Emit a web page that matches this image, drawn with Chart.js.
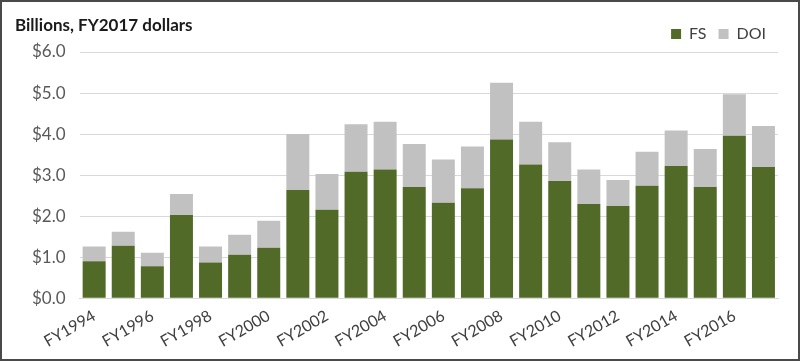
<!DOCTYPE html>
<html>
<head>
<meta charset="utf-8">
<script src="https://cdn.jsdelivr.net/npm/chart.js@4/dist/chart.umd.min.js"></script>
<style>
    html, body { margin: 0; padding: 0; background: #fff; }
    #frame {
        position: relative;
        width: 800px;
        height: 361px;
        box-sizing: border-box;
        border: 2px solid #4a4a4a;
        background: #fff;
    }
    #title {
        position: absolute;
        left: 13px;
        top: 12px;
        font-family: Lato, sans-serif;
        font-weight: bold;
        font-size: 17px;
        color: #1a1a1a;
    }
    #wrap { position: absolute; left: 0; top: 0; width: 796px; height: 357px; }
</style>
</head>
<body>
<div id="frame">
    <div id="wrap"><canvas id="chart"></canvas></div>
    <div id="title">Billions, FY2017 dollars</div>
</div>
<script>
const years = ['FY1994', 'FY1995', 'FY1996', 'FY1997', 'FY1998', 'FY1999', 'FY2000', 'FY2001',
    'FY2002', 'FY2003', 'FY2004', 'FY2005', 'FY2006', 'FY2007', 'FY2008', 'FY2009',
    'FY2010', 'FY2011', 'FY2012', 'FY2013', 'FY2014', 'FY2015', 'FY2016', 'FY2017'];
const fsValues = [0.90, 1.28, 0.78, 2.03, 0.87, 1.06, 1.23, 2.64, 2.16, 3.08, 3.14, 2.71,
    2.33, 2.68, 3.87, 3.26, 2.86, 2.30, 2.25, 2.74, 3.22, 2.71, 3.96, 3.20];
const doiValues = [0.36, 0.34, 0.33, 0.51, 0.39, 0.49, 0.66, 1.36, 0.87, 1.16, 1.16, 1.05,
    1.05, 1.02, 1.38, 1.04, 0.94, 0.84, 0.63, 0.83, 0.87, 0.93, 1.01, 1.00];
const yTicks = [0, 1, 2, 3, 4, 5, 6];

const palette = {
    fs: '#516a27',
    doi: '#c1c1c1',
    grid: '#d9d9d9',
    text: '#595959',
};

Chart.defaults.font.family = 'Lato, sans-serif';
Chart.defaults.color = palette.text;

new Chart(document.getElementById('chart'), {
    type: 'bar',
    data: {
        labels: years,
        datasets: [
            { label: 'FS', data: fsValues, backgroundColor: palette.fs },
            { label: 'DOI', data: doiValues, backgroundColor: palette.doi },
        ],
    },
    options: {
        responsive: true,
        maintainAspectRatio: false,
        animation: false,
        categoryPercentage: 1,
        barPercentage: 0.79,
        layout: { padding: { top: 12, right: 20, left: 16, bottom: 8 } },
        plugins: {
            legend: {
                position: 'top',
                align: 'end',
                labels: {
                    boxWidth: 10,
                    boxHeight: 10,
                    padding: 12,
                    color: '#404040',
                    font: { size: 16 },
                },
            },
            tooltip: { enabled: false },
        },
        scales: {
            x: {
                stacked: true,
                grid: { display: false },
                border: { color: palette.grid },
                ticks: {
                    autoSkip: false,
                    maxRotation: 30,
                    minRotation: 30,
                    padding: 0,
                    color: '#404040',
                    font: { size: 16 },
                    callback: function (value, index) {
                        return index % 2 === 0 ? years[index] : '';
                    },
                },
            },
            y: {
                stacked: true,
                min: 0,
                max: 6,
                afterBuildTicks: function (axis) {
                    axis.ticks = yTicks.map(function (v) { return { value: v }; });
                },
                grid: { color: palette.grid, drawTicks: false },
                border: { display: false },
                ticks: {
                    padding: 14,
                    font: { size: 17 },
                    callback: function (value) { return '$' + Number(value).toFixed(1); },
                },
            },
        },
    },
});
</script>
</body>
</html>
